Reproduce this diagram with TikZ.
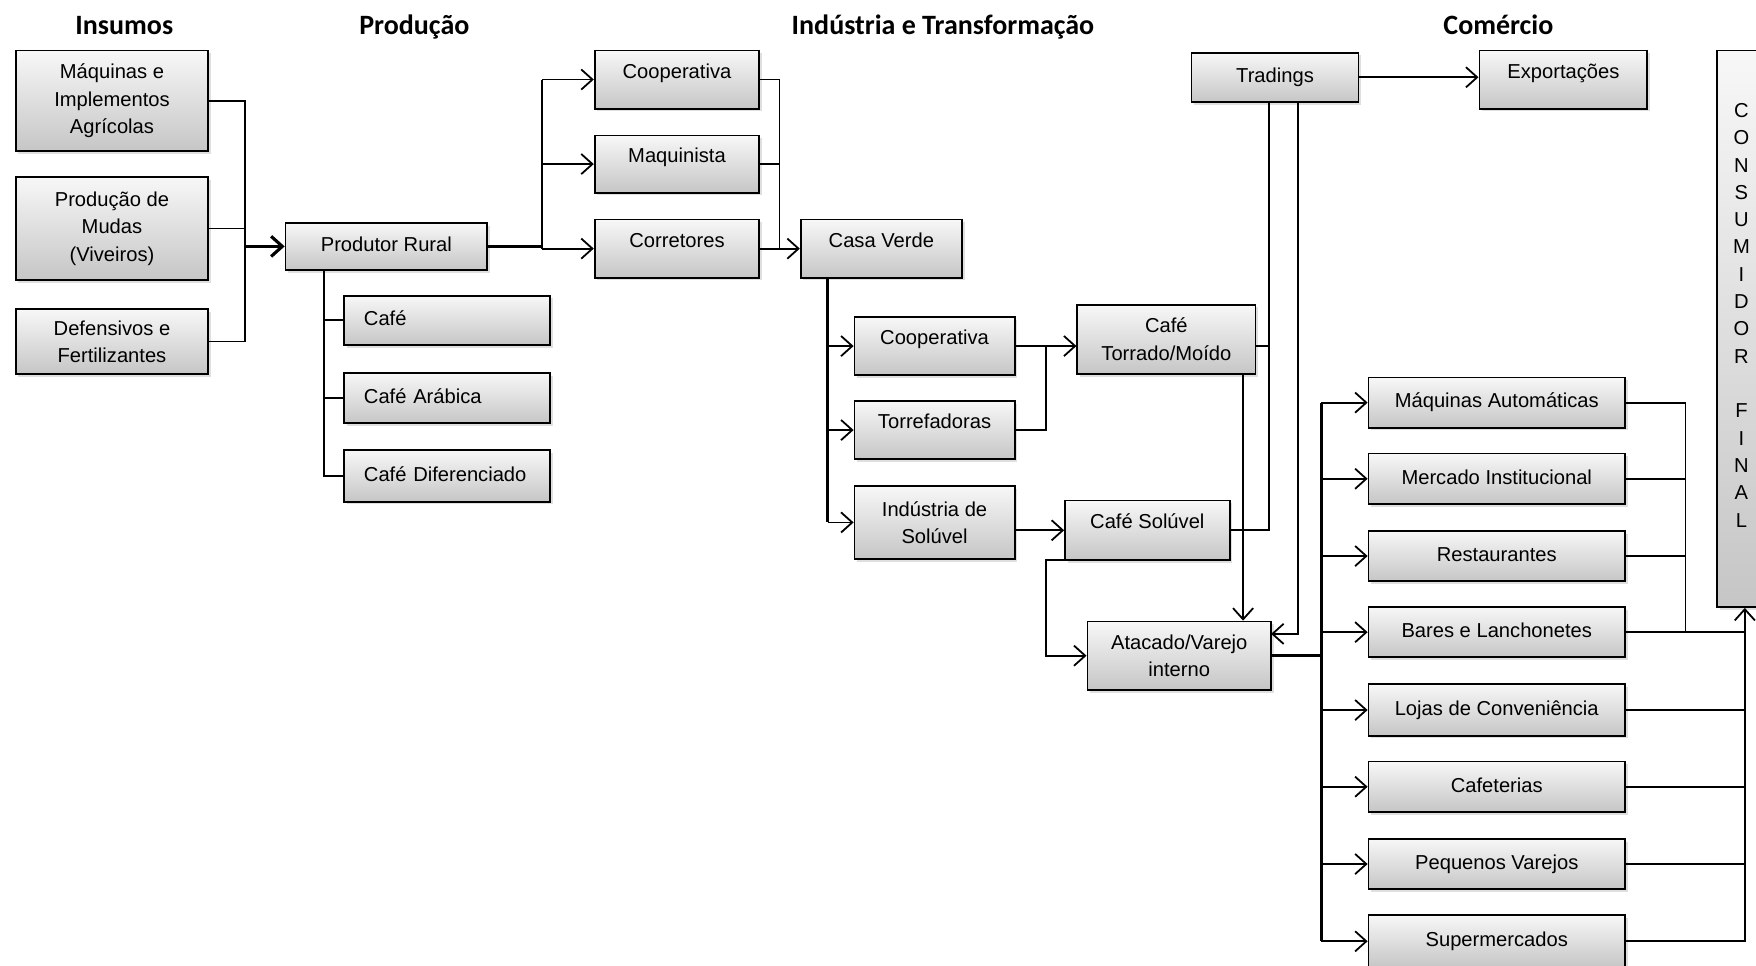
\documentclass[tikz,border=0pt]{standalone}
\usepackage{fontspec}
\setmainfont{Liberation Sans}
\newfontfamily\ttlfont{Carlito}
\usetikzlibrary{arrows.meta,shadows}
\newcommand\mkbox[7][]{\node[box,#1,minimum width={(#5-#3)*0.5pt},minimum height={(#6-#4)*0.5pt}] (#2) at ({(#3+#5)/2},{(#4+#6)/2}) {#7};}
\begin{document}
\begin{tikzpicture}[x=0.5pt,y=-0.5pt,
  box/.style={draw=black, line width=0.8pt, top color=gray!6, bottom color=gray!45,
    drop shadow={shadow xshift=1.2pt,shadow yshift=-1.2pt,opacity=0.25},
    font=\fontsize{9}{12.2}\selectfont, align=center, inner sep=2pt},
  one/.style={text height=6.8pt, text depth=2pt},
  tup/.style={text height=6.8pt, text depth=8pt},
  lft/.style={align=left, text width=74pt, inner xsep=9pt, text height=6.8pt, text depth=2pt},
  ttl/.style={font={\ttlfont\fontsize{12.5}{15}\selectfont\bfseries}, text height=9pt, text depth=2.6pt},
  ln/.style={line width=0.8pt},
  lnt/.style={line width=1.4pt},
  arr/.style={-{Straight Barb[length=5pt,width=9pt]}}]
\path[use as bounding box, clip] (0,0) rectangle (1568,862);

% titles
\node[ttl] (tIns) at (111,24) {Insumos};
\node[ttl] (tPro) at (370,24) {Produção};
\node[ttl] (tInd) at (842,24) {Indústria e Transformação};
\node[ttl] (tCom) at (1338,24) {Comércio};

% boxes
\mkbox{maq}{14}{45}{186}{135}{Máquinas e\\Implementos\\Agrícolas}
\mkbox{mudas}{14}{158}{186}{250}{Produção de\\Mudas\\(Viveiros)}
\mkbox{def}{14}{276}{186}{334}{Defensivos e\\Fertilizantes}
\mkbox[one]{prod}{255}{199}{435}{241}{Produtor Rural}
\mkbox[lft]{cafe1}{307}{264}{491}{308}{Café}
\mkbox[lft]{cafeA}{307}{333}{491}{378}{Café Arábica}
\mkbox[lft]{cafeD}{307}{402}{491}{448}{Café Diferenciado}
\mkbox[tup]{coop1}{531}{45}{678}{97}{Cooperativa}
\mkbox[tup]{maqn}{531}{121}{678}{172}{Maquinista}
\mkbox[tup]{corr}{531}{196}{678}{248}{Corretores}
\mkbox[tup]{casa}{715}{196}{859}{248}{Casa Verde}
\mkbox[tup]{coop2}{763}{283}{906}{335}{Cooperativa}
\mkbox[tup]{torr}{763}{358}{906}{410}{Torrefadoras}
\mkbox{indsol}{763}{434}{906}{499}{Indústria de\\Solúvel}
\mkbox{torrado}{962}{272}{1121}{334}{Café\\Torrado/Moído}
\mkbox[tup]{solu}{951}{447}{1098}{500}{Café Solúvel}
\mkbox{atac}{971}{555}{1135}{616}{Atacado/Varejo\\interno}
\mkbox[one]{trad}{1064}{47}{1213}{91}{Tradings}
\mkbox[tup]{exp}{1321}{45}{1471}{97}{Exportações}
\mkbox[one]{maqA}{1222}{337}{1451}{382}{Máquinas Automáticas}
\mkbox[one]{merc}{1222}{405}{1451}{450}{Mercado Institucional}
\mkbox[one]{rest}{1222}{474}{1451}{519}{Restaurantes}
\mkbox[one]{bares}{1222}{542}{1451}{587}{Bares e Lanchonetes}
\mkbox[one]{lojas}{1222}{611}{1451}{657}{Lojas de Conveniência}
\mkbox[one]{cafet}{1222}{680}{1451}{725}{Cafeterias}
\mkbox[one]{peq}{1222}{749}{1451}{794}{Pequenos Varejos}
\mkbox[one]{super}{1222}{817}{1451}{864}{Supermercados}
\mkbox{cons}{1533}{45}{1583}{542}{}
\node[font=\fontsize{9}{12.2}\selectfont, align=center] (consT) at (1555,281.5)
  {C\\O\\N\\S\\U\\M\\I\\D\\O\\R\\[12.2pt]F\\I\\N\\A\\L};

% Insumos -> Produtor Rural
\coordinate (b1) at (219,220);
\draw[ln] (maq.east) -| (b1);
\draw[ln] (def.east) -| (b1);
\draw[ln] (mudas.east) -- (mudas.east -| b1);
\draw[lnt,arr] (b1) -- (prod.west);

% Produtor Rural -> agentes
\coordinate (b2) at (484,220);
\draw[lnt] (prod.east) -- (b2);
\draw[ln] (b2 |- coop1.west) -- (b2 |- corr.west);
\draw[ln,arr] (b2 |- coop1.west) -- (coop1.west);
\draw[ln,arr] (b2 |- maqn.west) -- (maqn.west);
\draw[ln,arr] (b2 |- corr.west) -- (corr.west);

% Produtor Rural -> cafes
\coordinate (pb) at (289,241);
\draw[ln] (pb) |- (cafeD.west);
\draw[ln] (pb |- cafe1.west) -- (cafe1.west);
\draw[ln] (pb |- cafeA.west) -- (cafeA.west);

% agentes -> Casa Verde
\coordinate (b3) at (696,222);
\draw[ln] (coop1.east) -| (b3);
\draw[ln] (maqn.east) -- (maqn.east -| b3);
\draw[ln] (corr.east) -- (b3);
\draw[ln,arr] (b3) -- (casa.west);

% Casa Verde -> industria
\coordinate (b4) at (739,248);
\draw[line width=1.1pt] (b4) -- (b4 |- indsol.west);
\draw[ln,arr] (b4 |- coop2.west) -- (coop2.west);
\draw[ln,arr] (b4 |- torr.west) -- (torr.west);
\draw[ln,arr] (b4 |- indsol.west) -- (indsol.west);

% -> Cafe Torrado/Moido
\coordinate (b5) at (934,309);
\draw[ln,arr] (coop2.east) -- (coop2.east -| torrado.west);
\draw[ln] (torr.east) -| (b5);

% -> Cafe Soluvel
\draw[ln,arr] (indsol.east |- solu.west) -- (solu.west);

% Cafe Soluvel -> Atacado
\coordinate (s1) at (962,500);
\draw[ln,arr] (s1) -- ++(-28,0) |- (atac.west);

% Torrado -> Atacado
\coordinate (t1) at (1110,334);
\draw[ln,arr] (t1) -- (t1 |- atac.north);

% Tradings
\coordinate (tr1) at (1133,91);
\coordinate (tr2) at (1159,91);
\coordinate (a2) at (1135,566);
\draw[ln] (tr1) |- (solu.east);
\draw[ln] (torrado.east |- coop2.east) -- (tr1 |- coop2.east);
\draw[ln,arr] (tr2) |- (a2);
\draw[ln,arr] (trad.east) -- (trad.east -| exp.west);

% Atacado -> varejo
\coordinate (b6) at (1180,585.5);
\draw[lnt] (atac.east) -- (b6);
\draw[line width=1.1pt] (b6 |- maqA.west) -- (b6 |- super.west);
\foreach \n in {maqA,merc,rest,bares,lojas,cafet,peq,super}
  \draw[ln,arr] (b6 |- \n.west) -- (\n.west);

% varejo -> Consumidor Final
\coordinate (r1) at (1505,0);
\draw[ln] (maqA.east) -| (r1 |- bares.east);
\draw[ln] (merc.east) -- (merc.east -| r1);
\draw[ln] (rest.east) -- (rest.east -| r1);
\draw[ln] (bares.east) -- (bares.east -| cons.south);
\foreach \n in {lojas,cafet,peq}
  \draw[ln] (\n.east) -- (\n.east -| cons.south);
\draw[ln,arr] (super.east) -| (cons.south);
\end{tikzpicture}
\end{document}
